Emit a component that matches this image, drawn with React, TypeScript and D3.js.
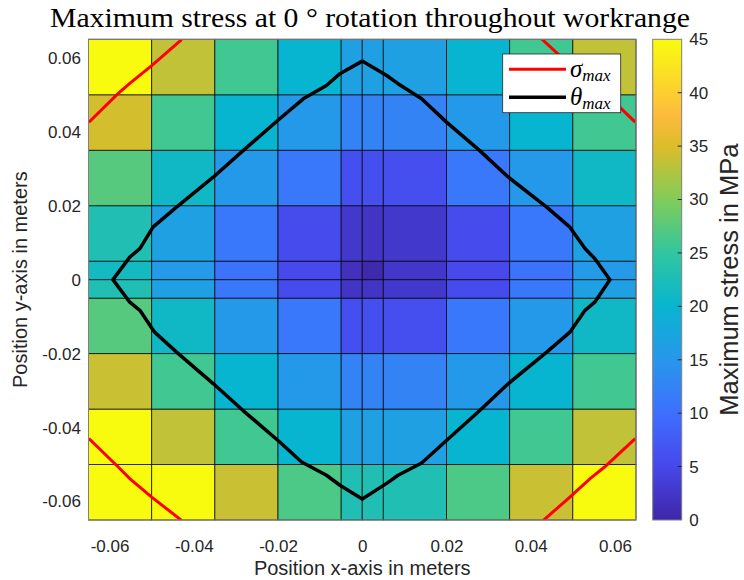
import React, { useEffect, useRef } from 'react';
import * as d3 from 'd3';

// pcolor cell edges in meters
const xEdges = [-0.065, -0.05, -0.035, -0.02, -0.005, 0, 0.005, 0.02, 0.035, 0.05, 0.065];
const yEdges = [-0.065, -0.05, -0.035, -0.02, -0.005, 0, 0.005, 0.02, 0.035, 0.05, 0.065];

// max stress in MPa per cell, rows from bottom (y = -0.065) to top
const stressRows = [
  [45, 45, 34, 26.7, 23, 23, 23, 26.7, 34, 45],
  [45, 33.5, 26, 20, 16.5, 16.5, 16.5, 20, 26, 33.5],
  [34, 26, 20, 15.3, 12.5, 12.5, 12.5, 15.3, 20, 26],
  [27.3, 21, 15.3, 11, 6, 6, 6, 11, 15.3, 21],
  [23, 16.5, 11, 5.5, 2.2, 2.2, 2.7, 5.5, 11, 16.5],
  [21.5, 15.5, 10.5, 5.2, 1.6, 0.4, 2.6, 5.2, 10.5, 15.5],
  [23, 16.5, 11, 5.5, 2.7, 2.2, 2.7, 5.5, 11, 16.5],
  [27.3, 21, 15.3, 11, 6, 6, 6, 11, 15.3, 21],
  [34.5, 26, 20, 15.3, 12.5, 12.5, 12.5, 15.3, 20, 26],
  [45, 33.5, 26, 20, 16.5, 16.5, 16.5, 20, 26, 33.5],
];

// theta_max contour (closed)
const thetaX = [0, 0.0058, 0.0085, 0.0141, 0.02, 0.0279, 0.0347, 0.0438, 0.0493, 0.0529, 0.0552, 0.0588,
  0.0552, 0.0529, 0.0493, 0.0438, 0.0347, 0.0279, 0.02, 0.0141, 0.0085, 0.0058, 0,
  -0.0053, -0.0085, -0.0144, -0.0196, -0.0283, -0.0354, -0.0441, -0.0493, -0.0528, -0.0552, -0.0592,
  -0.0552, -0.0528, -0.0497, -0.0441, -0.0354, -0.0283, -0.0196, -0.014, -0.0085, -0.0053, 0];
const thetaY = [0.0591, 0.0552, 0.053, 0.0489, 0.0426, 0.0349, 0.0277, 0.0196, 0.0142, 0.0084, 0.0057, 0,
  -0.0061, -0.0083, -0.0142, -0.0196, -0.0281, -0.0354, -0.0435, -0.0496, -0.0529, -0.0551, -0.0593,
  -0.0556, -0.0529, -0.0493, -0.0439, -0.0354, -0.0281, -0.0196, -0.0142, -0.0083, -0.0061, 0,
  0.0061, 0.0084, 0.0142, 0.0196, 0.0277, 0.0349, 0.0435, 0.0489, 0.0525, 0.0557, 0.0591];

// sigma_max contour pieces (one per corner)
const sigmaTLx = [-0.0649, -0.058, -0.0552, -0.05, -0.0429];
const sigmaTLy = [0.0426, 0.0503, 0.0531, 0.0579, 0.0649];
const sigmaTRx = [0.0426, 0.0469, 0.0505, 0.056, 0.0612, 0.0648];
const sigmaTRy = [0.0651, 0.0606, 0.0573, 0.052, 0.0466, 0.0426];
const sigmaBLx = [-0.0649, -0.058, -0.0552, -0.05, -0.0429];
const sigmaBLy = [-0.043, -0.0506, -0.0538, -0.0588, -0.0651];
const sigmaBRx = [0.0648, 0.0576, 0.0541, 0.0493, 0.043];
const sigmaBRy = [-0.043, -0.0506, -0.0538, -0.0588, -0.0651];

const xTicks = [-0.06, -0.04, -0.02, 0, 0.02, 0.04, 0.06];
const yTicks = [-0.06, -0.04, -0.02, 0, 0.02, 0.04, 0.06];
const cbTicks = [0, 5, 10, 15, 20, 25, 30, 35, 40, 45];

// parula colormap anchors
const parulaPos = [0, 1 / 9, 2 / 9, 3 / 9, 4 / 9, 5 / 9, 6 / 9, 7 / 9, 0.84, 8 / 9, 1];
const parulaHex = ['#3e26a8', '#4747eb', '#3e6fff', '#2797eb', '#08b5d0', '#31c69f', '#81cc59', '#dcbd29', '#fdba3e', '#fccf30', '#f9fb0e'];

const SANS = "'Liberation Sans', Arial, Helvetica, sans-serif";
const SERIF = "'Liberation Serif', 'Times New Roman', serif";

export default function App() {
  const ref = useRef<SVGSVGElement>(null);

  useEffect(() => {
    const svg = d3.select(ref.current);
    svg.selectAll('*').remove();

    const left = 88.5, right = 636, top = 39.3, bottom = 520;
    const x = d3.scaleLinear().domain([-0.065, 0.065]).range([left, right]);
    const y = d3.scaleLinear().domain([-0.065, 0.065]).range([bottom, top]);
    const cmax = 45;
    const color = d3.scaleLinear<string>()
      .domain(parulaPos.map(p => p * cmax))
      .range(parulaHex)
      .interpolate(d3.interpolateRgb)
      .clamp(true);

    const defs = svg.append('defs');
    defs.append('clipPath').attr('id', 'plotclip')
      .append('rect')
      .attr('x', left).attr('y', top)
      .attr('width', right - left).attr('height', bottom - top);

    // cells
    const cells = svg.append('g');
    stressRows.forEach((row, i) => {
      row.forEach((v, j) => {
        cells.append('rect')
          .attr('x', x(xEdges[j]))
          .attr('y', y(yEdges[i + 1]))
          .attr('width', x(xEdges[j + 1]) - x(xEdges[j]))
          .attr('height', y(yEdges[i]) - y(yEdges[i + 1]))
          .attr('fill', color(v))
          .attr('stroke', '#000')
          .attr('stroke-opacity', 0.8)
          .attr('stroke-width', 0.9);
      });
    });

    const line = d3.line<[number, number]>().x(d => x(d[0])).y(d => y(d[1]));
    const curves = svg.append('g').attr('clip-path', 'url(#plotclip)');
    const sigmas = [[sigmaTLx, sigmaTLy], [sigmaTRx, sigmaTRy], [sigmaBLx, sigmaBLy], [sigmaBRx, sigmaBRy]];
    sigmas.forEach(([xs, ys]) => {
      curves.append('path')
        .attr('d', line(xs.map((v, k) => [v, ys[k]] as [number, number])))
        .attr('fill', 'none')
        .attr('stroke', '#ff0000')
        .attr('stroke-width', 3);
    });
    curves.append('path')
      .attr('d', line(thetaX.map((v, k) => [v, thetaY[k]] as [number, number])))
      .attr('fill', 'none')
      .attr('stroke', '#000')
      .attr('stroke-width', 3.5)
      .attr('stroke-linejoin', 'round');

    // axes box
    svg.append('rect')
      .attr('x', left).attr('y', top)
      .attr('width', right - left).attr('height', bottom - top)
      .attr('fill', 'none')
      .attr('stroke', '#808080')
      .attr('stroke-width', 1);

    const fmt = (d: any) => String(+(+d).toFixed(2));
    const xAxis = svg.append('g')
      .attr('transform', `translate(0,${bottom})`)
      .call(d3.axisBottom(x).tickValues(xTicks).tickSize(0).tickPadding(20).tickFormat(fmt));
    const yAxis = svg.append('g')
      .attr('transform', `translate(${left},0)`)
      .call(d3.axisLeft(y).tickValues(yTicks).tickSize(0).tickPadding(7.5).tickFormat(fmt));
    [xAxis, yAxis].forEach(a => {
      a.select('.domain').remove();
      a.selectAll('text')
        .attr('fill', '#262626')
        .style('font-family', SANS)
        .style('font-size', '17px');
    });

    svg.append('text')
      .attr('x', (left + right) / 2)
      .attr('y', 575)
      .attr('text-anchor', 'middle')
      .attr('fill', '#262626')
      .style('font-family', SANS)
      .style('font-size', '20px')
      .text('Position x-axis in meters');
    svg.append('text')
      .attr('transform', `translate(27,${(top + bottom) / 2}) rotate(-90)`)
      .attr('text-anchor', 'middle')
      .attr('fill', '#262626')
      .style('font-family', SANS)
      .style('font-size', '20px')
      .text('Position y-axis in meters');

    // title
    svg.append('text')
      .attr('x', 370)
      .attr('y', 27)
      .attr('text-anchor', 'middle')
      .attr('fill', '#000')
      .attr('textLength', 640)
      .attr('lengthAdjust', 'spacingAndGlyphs')
      .style('font-family', SERIF)
      .style('font-size', '27px')
      .text('Maximum stress at 0 \u00B0 rotation throughout workrange');

    // legend
    const lg = svg.append('g');
    lg.append('rect')
      .attr('x', 502.7).attr('y', 54)
      .attr('width', 118).attr('height', 58.7)
      .attr('fill', '#fff')
      .attr('stroke', '#262626')
      .attr('stroke-width', 0.8);
    const legendItems = [
      { sym: '\u03C3', col: '#ff0000', yy: 69.3, w: 3 },
      { sym: '\u03B8', col: '#000', yy: 97.3, w: 3.5 },
    ];
    legendItems.forEach(it => {
      lg.append('line')
        .attr('x1', 509).attr('x2', 566)
        .attr('y1', it.yy).attr('y2', it.yy)
        .attr('stroke', it.col)
        .attr('stroke-width', it.w);
      const t = lg.append('text')
        .attr('x', 570)
        .attr('y', it.yy + 8)
        .attr('fill', '#000')
        .style('font-family', SERIF)
        .style('font-style', 'italic')
        .style('font-size', '25px');
      t.append('tspan').text(it.sym);
      t.append('tspan')
        .attr('dy', 4)
        .style('font-size', '17px')
        .text('max');
    });

    // colorbar
    const cbL = 652.7, cbR = 681.7;
    const cy = d3.scaleLinear().domain([0, cmax]).range([bottom, top]);
    const grad = defs.append('linearGradient')
      .attr('id', 'parula')
      .attr('x1', 0).attr('y1', 1).attr('x2', 0).attr('y2', 0);
    parulaPos.forEach((p, k) => {
      grad.append('stop').attr('offset', p).attr('stop-color', parulaHex[k]);
    });
    svg.append('rect')
      .attr('x', cbL).attr('y', top)
      .attr('width', cbR - cbL).attr('height', bottom - top)
      .attr('fill', 'url(#parula)')
      .attr('stroke', '#808080')
      .attr('stroke-width', 1);
    const cbAxis = svg.append('g')
      .attr('transform', `translate(${cbR},0)`)
      .call(d3.axisRight(cy).tickValues(cbTicks).tickSize(0).tickPadding(7.5));
    cbAxis.select('.domain').remove();
    cbAxis.selectAll('text')
      .attr('fill', '#262626')
      .style('font-family', SANS)
      .style('font-size', '17px');
    svg.append('g').selectAll('line')
      .data(cbTicks.slice(1, -1))
      .enter()
      .append('line')
      .attr('x1', cbR - 4).attr('x2', cbR)
      .attr('y1', d => cy(d)).attr('y2', d => cy(d))
      .attr('stroke', '#262626')
      .attr('stroke-width', 1);
    svg.append('text')
      .attr('transform', `translate(738,${(top + bottom) / 2}) rotate(-90)`)
      .attr('text-anchor', 'middle')
      .attr('fill', '#262626')
      .style('font-family', SANS)
      .style('font-size', '25.5px')
      .text('Maximum stress in MPa');
  }, []);

  return (
    <svg
      ref={ref}
      width={744}
      height={580}
      style={{ position: 'absolute', left: 0, top: 0, background: '#fff' }}
    />
  );
}
